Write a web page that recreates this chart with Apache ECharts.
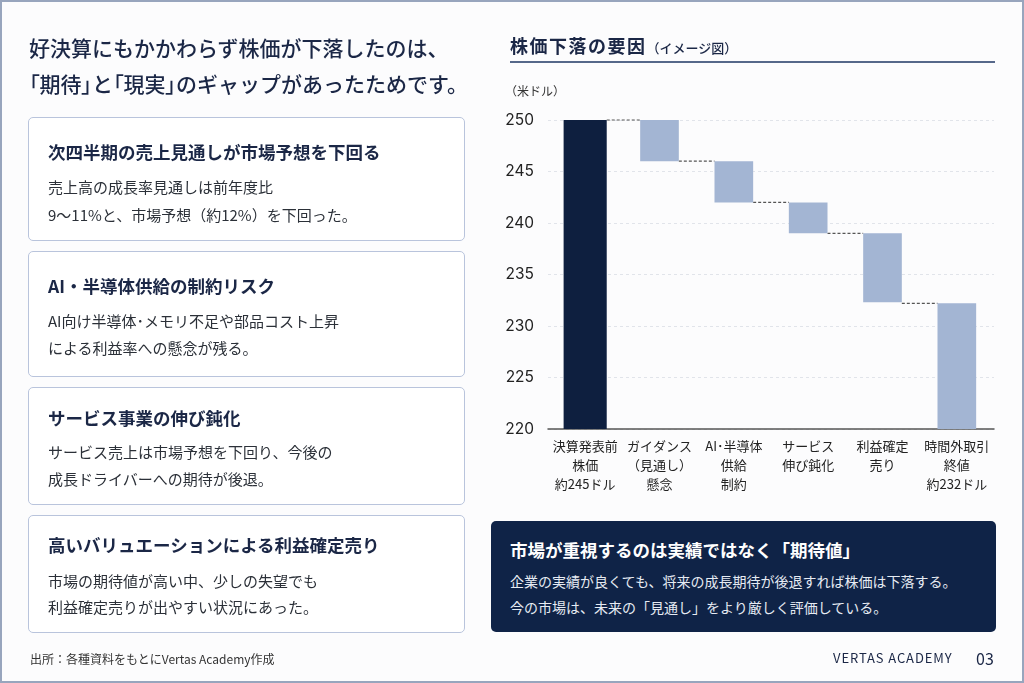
<!DOCTYPE html>
<html lang="ja">
<head>
<meta charset="utf-8">
<script src="https://cdn.jsdelivr.net/npm/echarts@6/dist/echarts.min.js"></script>
<style>
  html, body { margin:0; padding:0; }
  body { width:1024px; height:683px; position:relative; overflow:hidden; background:#fcfcfd;
         font-family:'Noto Sans CJK JP','Noto Sans',sans-serif; color:#2a2f3a; }
  .frame { position:absolute; left:0; top:0; width:1020px; height:679px; border:2px solid #98a5bd; }
  .abs { position:absolute; white-space:nowrap; }
  .box { position:absolute; left:28px; width:435px; border:1px solid #b9c4dc; border-radius:5px; background:#fff; }
  .bt { position:absolute; left:48px; font-size:17.5px; font-weight:700; color:#1b2746; line-height:24px; white-space:nowrap; }
  .bb { position:absolute; left:48px; font-size:15px; color:#2b3038; line-height:22px; white-space:nowrap; }
  .p { font-feature-settings:"palt"; }
  #chart { position:absolute; left:0; top:0; width:1024px; height:683px; }
</style>
</head>
<body>
<div class="frame"></div>
<div id="chart"></div>

<div class="abs" style="left:29px;top:29px;font-size:21px;font-weight:500;color:#1b2746;line-height:36px;">好決算にもかかわらず株価が下落したのは、<br><span class="p">「</span>期待<span class="p">」</span>と<span class="p">「</span>現実<span class="p">」</span>のギャップがあったためです。</div>

<div class="box" style="top:117px;height:122px;"></div>
<div class="bt" style="top:140px;">次四半期の売上見通しが市場予想を下回る</div>
<div class="bb" style="top:176px;">売上高の成長率見通しは前年度比</div>
<div class="bb" style="top:204px;">9～11%と、市場予想（約12%）を下回った。</div>

<div class="box" style="top:251px;height:124px;"></div>
<div class="bt" style="top:274px;">AI・半導体供給の制約リスク</div>
<div class="bb" style="top:310px;">AI向け半導体･メモリ不足や部品コスト上昇</div>
<div class="bb" style="top:337px;">による利益率への懸念が残る。</div>

<div class="box" style="top:387px;height:116px;"></div>
<div class="bt" style="top:406px;">サービス事業の伸び鈍化</div>
<div class="bb" style="top:441px;">サービス売上は市場予想を下回り、今後の</div>
<div class="bb" style="top:468px;">成長ドライバーへの期待が後退。</div>

<div class="box" style="top:515px;height:116px;"></div>
<div class="bt" style="top:533px;">高いバリュエーションによる利益確定売り</div>
<div class="bb" style="top:570px;">市場の期待値が高い中、少しの失望でも</div>
<div class="bb" style="top:596px;">利益確定売りが出やすい状況にあった。</div>

<div class="abs" style="left:30px;top:650px;font-size:12px;color:#333;line-height:18px;">出所：各種資料をもとにVertas Academy作成</div>

<div class="abs" style="left:510px;top:33px;line-height:24px;color:#1b2746;"><span style="font-size:18px;font-weight:700;letter-spacing:1.5px;">株価下落の要因</span><span style="font-size:13px;font-weight:500;">（イメージ図）</span></div>
<div class="abs" style="left:510px;top:61px;width:485px;height:2px;background:#56688a;"></div>
<div class="abs" style="left:505px;top:82px;font-size:12px;color:#333;line-height:18px;">（米ドル）</div>

<div class="abs" style="left:491px;top:521px;width:505px;height:111px;background:#0f2347;border-radius:5px;"></div>
<div class="abs" style="left:510px;top:538px;font-size:17.5px;font-weight:700;color:#fff;line-height:24px;">市場が重視するのは実績ではなく「期待値」</div>
<div class="abs" style="left:510px;top:571px;font-size:14px;color:#e6ebf3;line-height:20px;">企業の実績が良くても、将来の成長期待が後退すれば株価は下落する。</div>
<div class="abs" style="left:510px;top:597px;font-size:14px;color:#e6ebf3;line-height:20px;">今の市場は、未来の「見通し」をより厳しく評価している。</div>

<div class="abs" style="left:833px;top:649px;font-size:13px;letter-spacing:0.9px;color:#1b2746;line-height:18px;">VERTAS ACADEMY</div>
<div class="abs" style="left:976px;top:648px;font-size:16px;color:#1b2746;line-height:20px;">03</div>

<script>
const categories = ['決算発表前\n株価\n約245ドル', 'ガイダンス\n（見通し）\n懸念', 'AI･半導体\n供給\n制約', 'サービス\n伸び鈍化', '利益確定\n売り', '時間外取引\n終値\n約232ドル'];
const barHigh = [250, 250, 246, 242, 239, 232.2];
const barLow  = [220, 246, 242, 239, 232.3, 220];
const yTicks = [220, 225, 230, 235, 240, 245, 250];

const barData = categories.map((c, i) => [i, barLow[i], barHigh[i]]);
const connectorData = categories.slice(0, -1).map((c, i) => [i, barHigh[i + 1]]);

const chart = echarts.init(document.getElementById('chart'), null, { renderer: 'canvas' });
function barWidthFor(api, idx) {
  const band = api.size([1, 0])[0];
  return band * (idx === 0 ? 0.58 : 0.52);
}
chart.setOption({
  animation: false,
  backgroundColor: 'transparent',
  grid: { left: 548, top: 120, width: 446, height: 309 },
  xAxis: {
    type: 'category', data: categories,
    axisLine: { lineStyle: { color: '#555', width: 1.5 } },
    axisTick: { show: false },
    axisLabel: { color: '#222', fontSize: 13, lineHeight: 19, margin: 8, interval: 0,
                 fontFamily: "'Noto Sans CJK JP', sans-serif" }
  },
  yAxis: {
    type: 'value', min: yTicks[0], max: yTicks[yTicks.length - 1], interval: 5,
    axisLine: { show: false }, axisTick: { show: false },
    axisLabel: { color: '#222', fontSize: 15.5, margin: 14, fontFamily: 'Inter, sans-serif' },
    splitLine: { lineStyle: { color: '#e1e4ea', type: [3, 3] } }
  },
  series: [
    {
      type: 'custom', data: barData, z: 3,
      encode: { x: 0, y: [1, 2] },
      renderItem: function (params, api) {
        const idx = api.value(0);
        const lo = api.coord([idx, api.value(1)]);
        const hi = api.coord([idx, api.value(2)]);
        const w = barWidthFor(api, idx);
        return {
          type: 'rect',
          shape: { x: lo[0] - w / 2, y: hi[1], width: w, height: lo[1] - hi[1] },
          style: { fill: idx === 0 ? '#0e1f3f' : '#a3b5d3' }
        };
      }
    },
    {
      type: 'custom', data: connectorData, z: 2,
      encode: { x: 0, y: 1 },
      renderItem: function (params, api) {
        const idx = api.value(0);
        const p1 = api.coord([idx, api.value(1)]);
        const p2 = api.coord([idx + 1, api.value(1)]);
        const x1 = p1[0] + barWidthFor(api, idx) / 2;
        const x2 = p2[0] - barWidthFor(api, idx + 1) / 2;
        return {
          type: 'line',
          shape: { x1: x1, y1: p1[1], x2: x2, y2: p2[1] },
          style: { stroke: '#555', lineWidth: 1.2, lineDash: [3, 2] }
        };
      }
    }
  ]
});
</script>
</body>
</html>
